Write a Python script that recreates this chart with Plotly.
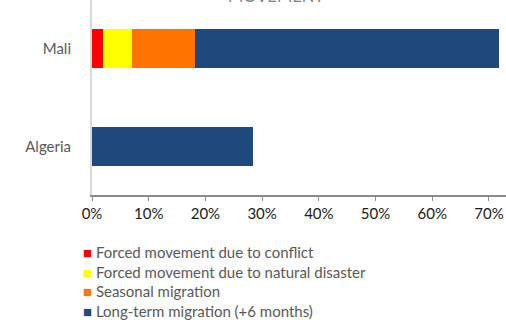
import plotly.graph_objects as go

countries = ["Algeria", "Mali"]
series_names = [
    "Forced movement due to conflict",
    "Forced movement due to natural disaster",
    "Seasonal migration",
    "Long-term migration (+6 months)",
]
conflict = [0.0, 1.9]
disaster = [0.0, 5.1]
seasonal = [0.0, 11.2]
longterm = [28.3, 53.6]
colors = ["#FF0000", "#FFFF00", "#FF7400", "#1F497D"]
tick_vals = [0, 10, 20, 30, 40, 50, 60, 70]
tick_text = [f"{v}%" for v in tick_vals]
title_text = "MOVEMENT"

fig = go.Figure()
for name, vals, col in zip(series_names, [conflict, disaster, seasonal, longterm], colors):
    fig.add_trace(go.Bar(
        y=countries, x=vals, name=name, orientation="h",
        marker=dict(color=col, line=dict(width=0)),
    ))

font_family = "Lato, 'Open Sans', sans-serif"

legend_lines = "<br>".join(
    f"<span style='color:{c}'>■</span> {n}" for n, c in zip(series_names, colors)
)

fig.update_layout(
    barmode="stack",
    bargap=0.6,
    width=506, height=320,
    margin=dict(l=92, r=0, t=0, b=125, autoexpand=False),
    plot_bgcolor="white", paper_bgcolor="white",
    font=dict(family=font_family, size=15, color="#595959"),
    showlegend=False,
    xaxis=dict(
        range=[0, 73.0], tickvals=tick_vals, ticktext=tick_text,
        showgrid=False, zeroline=False,
        showline=True, linecolor="#8C8C8C", linewidth=1.5,
        ticks="outside", ticklen=4, tickcolor="#8C8C8C",
        tickfont=dict(size=15, color="#1a1a1a"),
        fixedrange=True, automargin=False,
    ),
    yaxis=dict(
        showgrid=False, zeroline=False,
        showline=True, linecolor="#D9D9D9", linewidth=2,
        ticks="", ticklabelstandoff=16,
        tickfont=dict(size=15, color="#595959"),
        fixedrange=True, automargin=False,
    ),
    annotations=[
        dict(
            text=title_text, xref="paper", yref="paper", x=0.444, y=1.0,
            xanchor="center", yanchor="bottom", yshift=-8, showarrow=False,
            font=dict(size=16.5, color="#7f7f7f"),
        ),
        dict(
            text=legend_lines, xref="paper", yref="paper", x=-0.026, y=-0.238,
            xanchor="left", yanchor="top", align="left", showarrow=False,
            font=dict(size=15, color="#595959"),
        ),
    ],
)
fig.write_html(
    "out.html",
    config={"displayModeBar": False},
    post_script="document.body.style.margin='0px';document.body.style.overflow='hidden';",
)
